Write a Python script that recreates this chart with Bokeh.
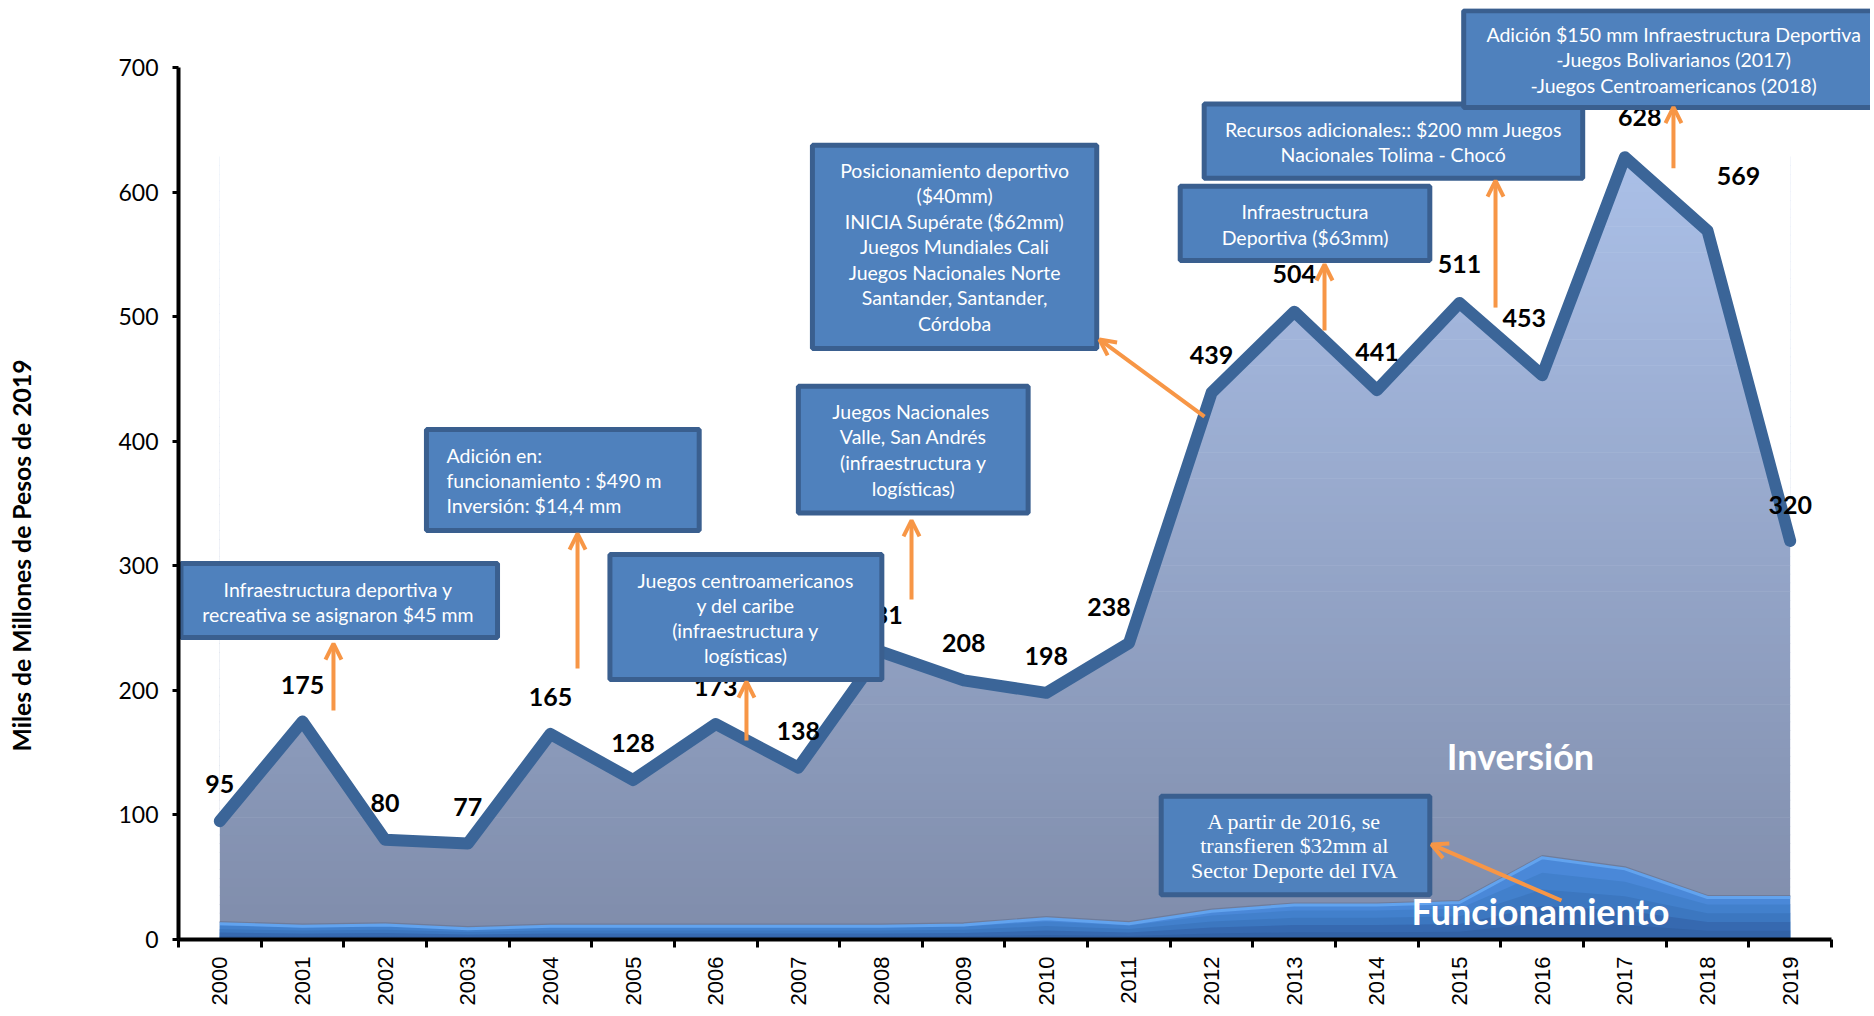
from math import pi
from bokeh.plotting import figure
from bokeh.models import Range1d, FixedTicker, Arrow, OpenHead, Title
from bokeh.core.properties import value
from bokeh.embed import file_html
from bokeh.resources import INLINE

# ---------------- data ----------------
years = ["2000", "2001", "2002", "2003", "2004", "2005", "2006", "2007", "2008", "2009",
         "2010", "2011", "2012", "2013", "2014", "2015", "2016", "2017", "2018", "2019"]
total = [95, 175, 80, 77, 165, 128, 173, 138, 231, 208,
         198, 238, 439, 504, 441, 511, 453, 628, 569, 320]
funcionamiento = [14, 12, 13, 10, 12, 12, 12, 12, 12, 13,
                  18, 14, 24, 29, 29, 31, 67, 58, 35, 35]
y_ticks = [0, 100, 200, 300, 400, 500, 600, 700]

# label offsets in screen px (dx right, dy up)
label_dx = [0, 0, 0, 0, 0, 0, 0, 0, 0, 0, 0, -20, 0, 0, 0, 0, -18, 15, 31, 0]
label_dy = [37, 37, 37, 37, 37, 37, 37, 37, 37, 37, 37, 36, 38, 38, 38, 39, 57, 40, 55, 36]

# annotation boxes: left, right, bottom, top (x in category index, y in data units)
boxes = [
    (-0.47, 3.36, 242.4, 301.8),
    (2.50, 5.80, 328.3, 409.4),
    (4.72, 8.01, 208.7, 309.1),
    (7.00, 9.78, 342.4, 444.2),
    (7.17, 10.61, 474.4, 637.7),
    (11.62, 14.64, 545.1, 604.7),
    (11.91, 16.49, 611.1, 670.7),
    (15.05, 20.60, 667.9, 745.5),
    (11.39, 14.64, 36.0, 115.0),
]
box_texts = [
    (1.43, [281.0, 261.3], ["Infraestructura deportiva y", "recreativa se asignaron $45 mm"], "center", "Lato"),
    (2.743, [388.5, 368.5, 348.4], ["Adición en:", "funcionamiento : $490 m", "Inversión: $14,4 mm"], "left", "Lato"),
    (6.36, [288.2, 268.4, 248.1, 228.3], ["Juegos centroamericanos", "y del caribe", "(infraestructura y", "logísticas)"], "center", "Lato"),
    (8.39, [424.1, 403.5, 383.1, 362.4], ["Juegos  Nacionales", "Valle, San Andrés", "(infraestructura y", "logísticas)"], "center", "Lato"),
    (8.89, [617.1, 597.0, 576.7, 556.1, 535.4, 515.0, 494.5],
     ["Posicionamiento deportivo", "($40mm)", "INICIA Supérate ($62mm)", "Juegos Mundiales Cali",
      "Juegos Nacionales Norte", "Santander, Santander,", "Córdoba"], "center", "Lato"),
    (13.13, [584.1, 563.2], ["Infraestructura", "Deportiva ($63mm)"], "center", "Lato"),
    (14.20, [650.2, 630.2], ["Recursos adicionales:: $200 mm Juegos", "Nacionales Tolima - Chocó"], "center", "Lato"),
    (17.59, [726.5, 706.4, 685.5], ["Adición $150 mm Infraestructura Deportiva", "-Juegos Bolivarianos (2017)",
                                    "-Juegos Centroamericanos (2018)"], "center", "Lato"),
    (13.0, [94.7, 75.5, 55.4], ["A partir de 2016, se", "transfieren $32mm al", "Sector Deporte del IVA"], "center", "Liberation Serif"),
]
arrows = [
    (1.375, 183.8, 1.375, 237.6),
    (4.328, 217.5, 4.328, 325.9),
    (6.372, 159.7, 6.372, 207.1),
    (8.369, 272.9, 8.369, 336.4),
    (11.914, 419.8, 10.643, 481.7),
    (13.366, 488.9, 13.366, 541.9),
    (15.435, 507.3, 15.435, 609.3),
    (17.588, 619.2, 17.588, 668.2),
    (16.233, 31.3, 14.66, 76.3),
]

# ---------------- figure ----------------
n = len(years)
idx = list(range(n))
Y_TOP = 747.4

p = figure(width=1870, height=1012, x_range=Range1d(-0.5, 19.972), y_range=Range1d(0, Y_TOP),
           output_backend="svg", toolbar_location=None,
           min_border_left=178, min_border_right=0, min_border_top=8, min_border_bottom=73)
p.outline_line_color = None
p.xgrid.visible = False
p.ygrid.visible = False
p.background_fill_color = "white"

# gradient fill for Inversión area (bands, then white mask above the line)
top_c = (171, 192, 232)
bot_c = (128, 141, 171)
vmax = max(total)
nb = 90
for k in range(nb):
    b = vmax * k / nb
    t = vmax * (k + 1) / nb + 0.5
    f = (k + 0.5) / nb
    c = tuple(int(bot_c[j] + (top_c[j] - bot_c[j]) * f) for j in range(3))
    p.quad(left=[idx[0]], right=[idx[-1]], bottom=[b], top=[t],
           fill_color="#%02x%02x%02x" % c, line_color=None)
p.varea(x=idx, y1=total, y2=[Y_TOP + 10] * n, fill_color="white")

# Funcionamiento area (layered shading)
for frac, col in [(1.0, "#4A88D8"), (0.8, "#4280CC"), (0.6, "#3C77C0"), (0.4, "#3669B0"), (0.2, "#3262A6")]:
    p.varea(x=idx, y1=[0] * n, y2=[v * frac for v in funcionamiento], fill_color=col)
p.line(idx, funcionamiento, line_color="#6E7C9B", line_width=2)
p.line(idx, [v - 1.3 for v in funcionamiento], line_color="#62A3EE", line_width=3)

# total line
p.line(idx, total, line_color="#3B6598", line_width=12, line_join="round", line_cap="round")

# data labels
p.text(x=idx, y=total, text=[str(v) for v in total],
       x_offset=label_dx, y_offset=[-d for d in label_dy],
       text_font=value("Lato"), text_font_style="bold", text_font_size="25px",
       text_color="black", text_align="center", text_baseline="middle")

# boxes
for (l, r, b, t) in boxes:
    p.quad(left=[l], right=[r], bottom=[b], top=[t], fill_color="#4F81BD",
           line_color="#3A5F8F", line_width=5)
for (x, ys, lines, align, font) in box_texts:
    fs = "22px" if font == "Liberation Serif" else "19.5px"
    p.text(x=[x] * len(ys), y=ys, text=lines, text_font=value(font), text_font_size=fs,
           text_color="white", text_align=align, text_baseline="middle")

# series labels
p.text(x=[15.737], y=[147.7], text=["Inversión"], text_font=value("Lato"), text_font_style="bold",
       text_font_size="36px", text_color="white", text_align="center", text_baseline="middle")
p.text(x=[15.98], y=[22.5], text=["Funcionamiento"], text_font=value("Lato"), text_font_style="bold",
       text_font_size="36px", text_color="white", text_align="center", text_baseline="middle")

# arrows
orange = "#F79646"
for (x0, y0, x1, y1) in arrows:
    p.add_layout(Arrow(end=OpenHead(size=16, line_color=orange, line_width=4),
                       x_start=x0, y_start=y0, x_end=x1, y_end=y1,
                       line_color=orange, line_width=4))

# axes
p.xaxis.ticker = FixedTicker(ticks=idx, minor_ticks=[i - 0.5 for i in range(n + 1)])
p.xaxis.major_label_overrides = {i: years[i] for i in idx}
p.xaxis.bounds = (-0.5, n - 0.5)
p.xaxis.major_tick_line_color = None
p.xaxis.major_tick_out = 8
p.xaxis.major_tick_in = 0
p.xaxis.minor_tick_out = 8
p.xaxis.minor_tick_in = 0
p.xaxis.minor_tick_line_width = 3
p.xaxis.minor_tick_line_color = "black"
p.xaxis.axis_line_width = 4
p.xaxis.axis_line_color = "black"
p.xaxis.major_label_orientation = pi / 2
p.xaxis.major_label_standoff = 9
p.xaxis.major_label_text_font = "Liberation Sans"
p.xaxis.major_label_text_font_size = "22px"
p.xaxis.major_label_text_color = "black"

p.yaxis.ticker = FixedTicker(ticks=y_ticks)
p.yaxis.bounds = (0, 700)
p.yaxis.major_tick_out = 6
p.yaxis.major_tick_in = 0
p.yaxis.major_tick_line_width = 3
p.yaxis.minor_tick_line_color = None
p.yaxis.axis_line_width = 4
p.yaxis.axis_line_color = "black"
p.yaxis.major_label_standoff = 14
p.yaxis.major_label_text_font = "Lato"
p.yaxis.major_label_text_font_size = "23px"
p.yaxis.major_label_text_color = "black"
# blank axis label used only as spacing so the title sits at the far left
p.yaxis.axis_label = " "
p.yaxis.axis_label_standoff = 66
p.yaxis.axis_label_text_font_size = "10px"

ytitle = Title(text="Miles de Millones de Pesos de 2019", align="left", offset=188,
               text_font="Lato", text_font_style="bold", text_font_size="24.7px",
               text_color="black", standoff=0)
p.add_layout(ytitle, "left")

open("out.html", "w").write(file_html(p, INLINE))
